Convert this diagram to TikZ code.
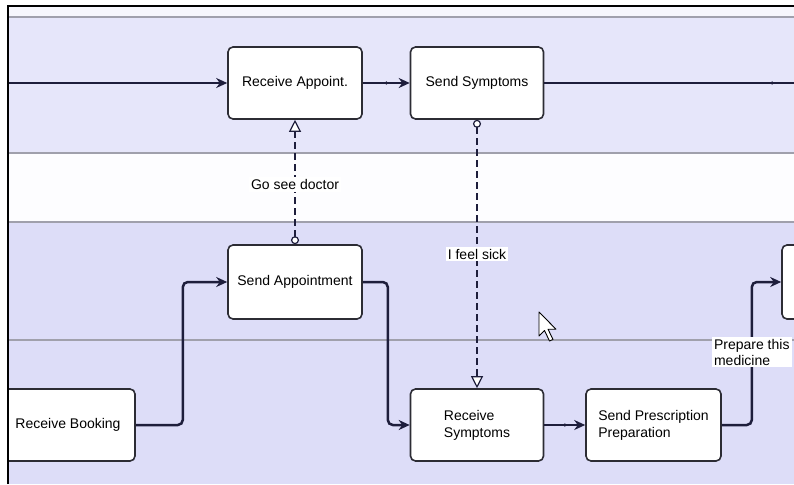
\documentclass[tikz,border=0pt]{standalone}
\usepackage{fontspec}
\setmainfont{Liberation Sans}
\usetikzlibrary{arrows.meta,calc}
\definecolor{laneTop}{HTML}{F6F6FC}
\definecolor{laneA}{HTML}{E6E6FA}
\definecolor{laneW}{HTML}{FDFDFF}
\definecolor{laneB}{HTML}{DDDDF8}
\definecolor{laneline}{HTML}{A0A0AC}
\definecolor{flowc}{HTML}{1E1E3C}
\definecolor{nodeb}{HTML}{2C2C34}
\begin{document}
\begin{tikzpicture}[x=1pt,y=-1pt,
  task/.style={draw=nodeb, line width=1.6pt, fill=white, rounded corners=5pt,
    minimum width=134pt, minimum height=72pt, inner sep=0pt,
    font=\fontsize{14}{17}\selectfont, align=left},
  flow/.style={draw=flowc, line width=2.5pt, rounded corners=5pt,
    -{Stealth[length=11pt,width=10pt]}},
  plain/.style={draw=flowc, line width=2.5pt},
  msg/.style={draw=flowc, line width=2.5pt, dash pattern=on 7pt off 4pt,
    {Circle[fill=white,length=8pt,width=8pt,line width=1.2pt]}-{Triangle[fill=white,length=12pt,width=12pt,line width=1.2pt]}},
  lbl/.style={fill=white, inner sep=2pt, font=\fontsize{14}{16}\selectfont, align=left},
  bendpt/.style={circle, fill=flowc, inner sep=0pt, minimum size=3.5pt}
]
\useasboundingbox (0,0) rectangle (794,484);
\fill[white] (0,0) rectangle (794,484);
\begin{scope}
  \clip (8,6) rectangle (794,484);
  \fill[laneTop] (8,6) rectangle (794,17);
  \fill[laneA] (8,17) rectangle (794,153);
  \fill[laneW] (8,153) rectangle (794,222);
  \fill[laneB] (8,222) rectangle (794,484);
  \draw[laneline, line width=1.5pt] (8,17) -- (794,17);
  \draw[laneline, line width=1.5pt] (8,153) -- (794,153);
  \draw[laneline, line width=1.5pt] (8,222) -- (794,222);
  \draw[laneline, line width=1.5pt] (8,340) -- (794,340);

  % tasks
  \node[task] (ra) at (295,83) {Receive Appoint.};
  \node[task, minimum width=133pt] (ss) at (477,83) {Send Symptoms};
  \node[task, minimum height=74pt] (sa) at (295,282) {Send Appointment};
  \node[task] (rb) at (68,425) {Receive Booking};
  \node[task, minimum width=133pt] (rs) at (477,425) {Receive\\Symptoms};
  \node[task, minimum width=135pt] (sp) at (653.5,425) {Send Prescription\\Preparation};
  \node[task, minimum height=74pt] (rn) at (849,282) {};

  \coordinate (l1) at (8,83);
  \coordinate (r1) at (794,83);

  % sequence flows
  \draw[flow] (l1) -- (ra.west);
  \draw[flow] (ra.east) -- node[bendpt]{} (ss.west);
  \draw[plain] (ss.east) -- node[bendpt, pos=0.912]{} (r1);
  \draw[flow] (rb.east) -- ++(47,0) |- (sa.west);
  \draw[flow] (sa.east) -- ++(25,0) |- (rs.west);
  \draw[flow] (rs.east) -- node[bendpt]{} (sp.west);
  \draw[flow] (sp.east) -- ++(30,0) coordinate (c3) |- (rn.west);

  % message flows
  \draw[msg] (sa.north) -- node[lbl, pos=0.48]{Go see doctor} (ra.south);
  \draw[msg] (ss.south) -- node[lbl, pos=0.50]{I feel sick} (rs.north);
  \node[lbl] (pl) at (c3 |- 0,352) {Prepare this\\medicine};

  % mouse pointer
  \draw[black, line width=0.9pt, fill=white, line join=round]
    (539,312) -- ++(0,24) -- ++(5.5,-5.5) -- ++(5,10.5) -- ++(3.5,-1.6)
    -- ++(-5,-10.2) -- ++(8,0) -- cycle;
\end{scope}
% frame
\draw[black, line width=2.2pt] (8,484) -- (8,6) -- (794,6);
\end{tikzpicture}
\end{document}
